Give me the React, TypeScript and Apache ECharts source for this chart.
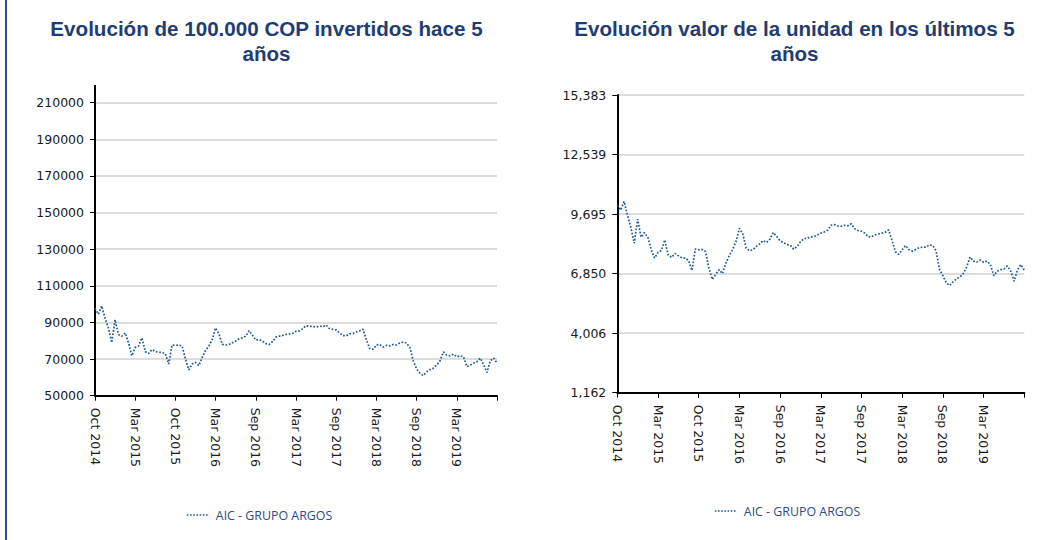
import React, { useEffect, useRef } from "react";
import * as echarts from "echarts";

const SERIES_NAME = "AIC - GRUPO ARGOS";
const TITLE_LEFT = ["Evolución de 100.000 COP invertidos hace 5", "años"];
const TITLE_RIGHT = ["Evolución valor de la unidad en los últimos 5", "años"];

const X_TICK_LABELS = [
  "Oct 2014", "Mar 2015", "Oct 2015", "Mar 2016", "Sep 2016",
  "Mar 2017", "Sep 2017", "Mar 2018", "Sep 2018", "Mar 2019", "",
];
const TICK_STEP = 12;

// Value of 100.000 COP invested (left chart)
const LEFT_VALUES = [
  97700, 94500, 99000, 92300, 87000, 79000, 91500, 83400, 82500, 84300,
  78900, 71800, 76250, 77140, 81600, 74100, 73000, 75200, 74100, 73750,
  73570, 73000, 67300, 77700, 77500, 77700, 77140, 70000, 64100, 67300,
  68200, 66400, 70900, 74800, 77140, 80700, 87000, 83750, 78000, 77700,
  78000, 78900, 79800, 81100, 81600, 82500, 85500, 83000, 80400, 80700,
  79800, 78400, 78000, 79500, 82000, 82500, 82900, 83400, 83750, 84100,
  85200, 85360, 86600, 88200, 87860, 87860, 87500, 88000, 87700, 88570,
  86600, 86250, 85900, 84300, 82860, 82700, 83750, 83900, 84800, 85500,
  86300, 80700, 75700, 75350, 77700, 78000, 76600, 77500, 77140, 78000,
  77700, 78750, 79300, 78750, 76250, 69100, 64600, 62300, 61000, 63000,
  64300, 65000, 66800, 69100, 73900, 72100, 71800, 72700, 71250, 71800,
  71250, 65900, 66800, 67700, 68600, 70500, 67000, 62700, 69100, 70500,
  67850,
];

// Unit value (right chart)
const RIGHT_VALUES = [
  10120, 9885, 10300, 9650, 9050, 8305, 9450, 8590, 8810, 8590,
  7990, 7595, 7860, 7955, 8460, 7735, 7625, 7815, 7700, 7610,
  7595, 7480, 7000, 8020, 7990, 8005, 7910, 7120, 6570, 6805,
  7040, 6850, 7355, 7700, 7990, 8385, 9015, 8745, 8070, 7940,
  7990, 8150, 8275, 8430, 8335, 8495, 8810, 8620, 8415, 8335,
  8240, 8210, 8020, 8145, 8370, 8525, 8540, 8605, 8620, 8700,
  8780, 8840, 8920, 9160, 9190, 9125, 9110, 9160, 9140, 9230,
  8990, 8905, 8875, 8780, 8605, 8620, 8700, 8745, 8780, 8825,
  8940, 8430, 7895, 7770, 7990, 8195, 7990, 7925, 8005, 8085,
  8115, 8115, 8225, 8195, 7940, 7040, 6755, 6410, 6285, 6455,
  6600, 6690, 6850, 7165, 7640, 7450, 7400, 7500, 7390, 7450,
  7280, 6755, 6960, 7040, 7070, 7215, 6960, 6490, 7040, 7280,
  7010,
];

const LEFT_Y = { min: 50000, max: 210000, interval: 20000 };
const RIGHT_Y = { min: 1162, max: 15383, interval: 2844.2 };

const TITLE_COLOR = "#1f3d73";
const LINE_COLOR = "#1d5a98";
const LEGEND_COLOR = "#2e4a86";
const LABEL_FONT = "DejaVu Sans";

export default function App() {
  const ref = useRef<HTMLDivElement>(null);

  useEffect(() => {
    if (!ref.current) return;
    const chart = echarts.init(ref.current, undefined, { renderer: "svg" });
    const categories = LEFT_VALUES.map((_, i) => String(i));
    const showTick = (idx: number) => idx % TICK_STEP === 0;

    const xAxisBase = (gridIndex: number) => ({
      type: "category" as const,
      gridIndex,
      data: categories,
      boundaryGap: false,
      axisLine: { show: true, lineStyle: { color: "#000", width: 2 } },
      axisTick: { show: true, interval: showTick, length: 5, lineStyle: { color: "#000", width: 1 } },
      axisLabel: {
        interval: showTick,
        rotate: -90,
        margin: 12,
        color: "#1a1a1a",
        fontFamily: LABEL_FONT,
        fontSize: 12.5,
        formatter: (_v: string, idx: number) => X_TICK_LABELS[idx / TICK_STEP] ?? "",
      },
      splitLine: { show: false },
    });

    const yAxisBase = (gridIndex: number, cfg: { min: number; max: number; interval: number }, fmt: (v: number) => string) => ({
      type: "value" as const,
      gridIndex,
      min: cfg.min,
      max: cfg.max,
      interval: cfg.interval,
      axisLine: { show: true, lineStyle: { color: "#000", width: 2 } },
      axisTick: { show: true, length: 5, lineStyle: { color: "#000", width: 1 } },
      axisLabel: { margin: 11, color: "#1a1a1a", fontFamily: LABEL_FONT, fontSize: 12.5, formatter: fmt },
      splitLine: { show: true, lineStyle: { color: "#dcdcdc", width: 2 } },
    });

    const titleStyle = {
      color: TITLE_COLOR,
      fontFamily: "Liberation Sans",
      fontWeight: "bold" as const,
      fontSize: 20.6,
      lineHeight: 22,
    };

    const titleLine = (text: string, left: number, top: number) => ({
      text,
      left,
      top,
      padding: 0,
      textAlign: "center",
      textStyle: titleStyle,
    });

    const legendBase = (left: number, top: number) => ({
      left,
      top,
      data: [SERIES_NAME],
      selectedMode: false,
      itemWidth: 21,
      itemHeight: 10,
      itemGap: 0,
      itemStyle: { opacity: 0 },
      lineStyle: { color: LINE_COLOR, width: 1.6, type: "dotted" as const },
      textStyle: { color: LEGEND_COLOR, fontFamily: "Open Sans", fontSize: 12.4, padding: [0, 0, 0, 3] },
    });

    const seriesBase = (xi: number, data: number[]) => ({
      name: SERIES_NAME,
      type: "line" as const,
      xAxisIndex: xi,
      yAxisIndex: xi,
      data,
      showSymbol: false,
      symbol: "none",
      lineStyle: { color: LINE_COLOR, width: 1.7, type: "dotted" as const },
      itemStyle: { color: LINE_COLOR },
    });

    chart.setOption({
      animation: false,
      backgroundColor: "#ffffff",
      title: [
        titleLine(TITLE_LEFT[0], 266.5, 17),
        titleLine(TITLE_LEFT[1], 266.5, 42),
        titleLine(TITLE_RIGHT[0], 794.5, 17),
        titleLine(TITLE_RIGHT[1], 794.5, 42),
      ],
      legend: [legendBase(181, 504), legendBase(709, 500)],
      grid: [
        { left: 95, top: 102.7, width: 402, height: 293 },
        { left: 617.3, top: 95, width: 407, height: 297.7 },
      ],
      xAxis: [xAxisBase(0), xAxisBase(1)],
      yAxis: [
        yAxisBase(0, LEFT_Y, (v: number) => String(Math.round(v))),
        yAxisBase(1, RIGHT_Y, (v: number) => Math.round(v).toLocaleString("en-US")),
      ],
      series: [seriesBase(0, LEFT_VALUES), seriesBase(1, RIGHT_VALUES)],
      graphic: [
        { type: "rect", left: 5, top: 0, shape: { width: 2, height: 540 }, style: { fill: "#2d4d8e" } },
        { type: "line", shape: { x1: 95, y1: 85, x2: 95, y2: 103 }, style: { stroke: "#000", lineWidth: 2 } },
      ],
    });

    return () => chart.dispose();
  }, []);

  return (
    <div
      ref={ref}
      style={{ position: "fixed", left: 0, top: 0, width: 1053, height: 540, background: "#fff" }}
    />
  );
}
